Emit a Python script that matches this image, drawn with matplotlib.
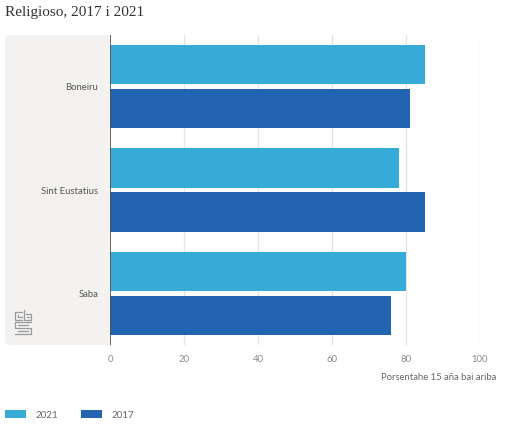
import matplotlib
matplotlib.use("Agg")
import matplotlib.pyplot as plt
from matplotlib.patches import FancyBboxPatch, Patch
from matplotlib.lines import Line2D

categories = ["Boneiru", "Sint Eustatius", "Saba"]
series_names = ["2021", "2017"]
values_2021 = [85, 78, 80]
values_2017 = [81, 85, 76]
xticks = [0, 20, 40, 60, 80, 100]
title = "Religioso, 2017 i 2021"
xlabel = "Porsentahe 15 aña bai ariba"

C21 = "#37abd8"
C17 = "#2264b0"
LABEL_FONT = "Lato"

W, H = 513, 429
fig = plt.figure(figsize=(W / 100, H / 100), dpi=100)
fig.patch.set_facecolor("white")

def fx(x):
    return x / W

def fy(y):
    return 1 - y / H

# gray panel behind labels
panel = FancyBboxPatch((fx(5), fy(345)), fx(130) - fx(5), fy(35) - fy(345),
                       boxstyle="round,pad=0,rounding_size=0.012",
                       transform=fig.transFigure, facecolor="#f3f2f0",
                       edgecolor="none", zorder=-2)
fig.add_artist(panel)

ax = fig.add_axes([fx(110), fy(345), fx(480) - fx(110), fy(35) - fy(345)])
ax.set_facecolor("white")

bh = 0.38
off = 0.212
ypos = list(range(len(categories)))
ax.barh([y - off for y in ypos], values_2021, height=bh, color=C21, zorder=3)
ax.barh([y + off for y in ypos], values_2017, height=bh, color=C17, zorder=3)

ax.set_ylim(len(categories) - 0.5, -0.5)
ax.set_xlim(0, 100)
ax.set_yticks(ypos)
ax.set_yticklabels(categories, fontsize=6.8, color="#555555", family=LABEL_FONT)
ax.set_xticks(xticks)
ax.set_xticklabels([str(t) for t in xticks], fontsize=6.8, color="#8a8a8a", family=LABEL_FONT)
ax.tick_params(axis="y", length=0, pad=8.6)
ax.tick_params(axis="x", length=0, pad=7)
ax.grid(axis="x", color="#e3e3e3", linewidth=0.9, zorder=0)
ax.axvline(0, color="#555555", linewidth=1.2, zorder=4)
for s in ax.spines.values():
    s.set_visible(False)

fig.text(fx(5), fy(12.5), title, fontsize=11, family="Liberation Serif",
         color="#333333", ha="left", va="center")
fig.text(fx(496), fy(377), xlabel, fontsize=6.8, family=LABEL_FONT,
         color="#666666", ha="right", va="center")

handles = [Patch(facecolor=C21, edgecolor="none"), Patch(facecolor=C17, edgecolor="none")]
fig.legend(handles, series_names, loc="center left", bbox_to_anchor=(fx(0), fy(415)),
           ncol=2, frameon=False, handlelength=2.2, handleheight=0.85,
           handletextpad=0.9, columnspacing=2.4, borderaxespad=0, borderpad=0.5,
           prop={"family": LABEL_FONT, "size": 7}, labelcolor="#666666")

# CBS logo (decorative)
lc = "#9a9a9a"
segs = [
    [(22, 312), (15, 312), (15, 320), (22, 320)],
    [(18, 315), (18, 317), (22, 317)],
    [(24, 310), (24, 320), (31, 320), (31, 314), (26, 314)],
    [(27, 317), (29, 317)],
    [(31, 322), (15, 322), (15, 328), (31, 328), (31, 334), (15, 334)],
    [(28, 325), (18, 325)],
    [(18, 331), (28, 331)],
]
for s in segs:
    xs = [fx(p[0]) for p in s]
    ys = [fy(p[1]) for p in s]
    fig.add_artist(Line2D(xs, ys, transform=fig.transFigure, color=lc, linewidth=0.9))

fig.savefig("out.png", dpi=100)
